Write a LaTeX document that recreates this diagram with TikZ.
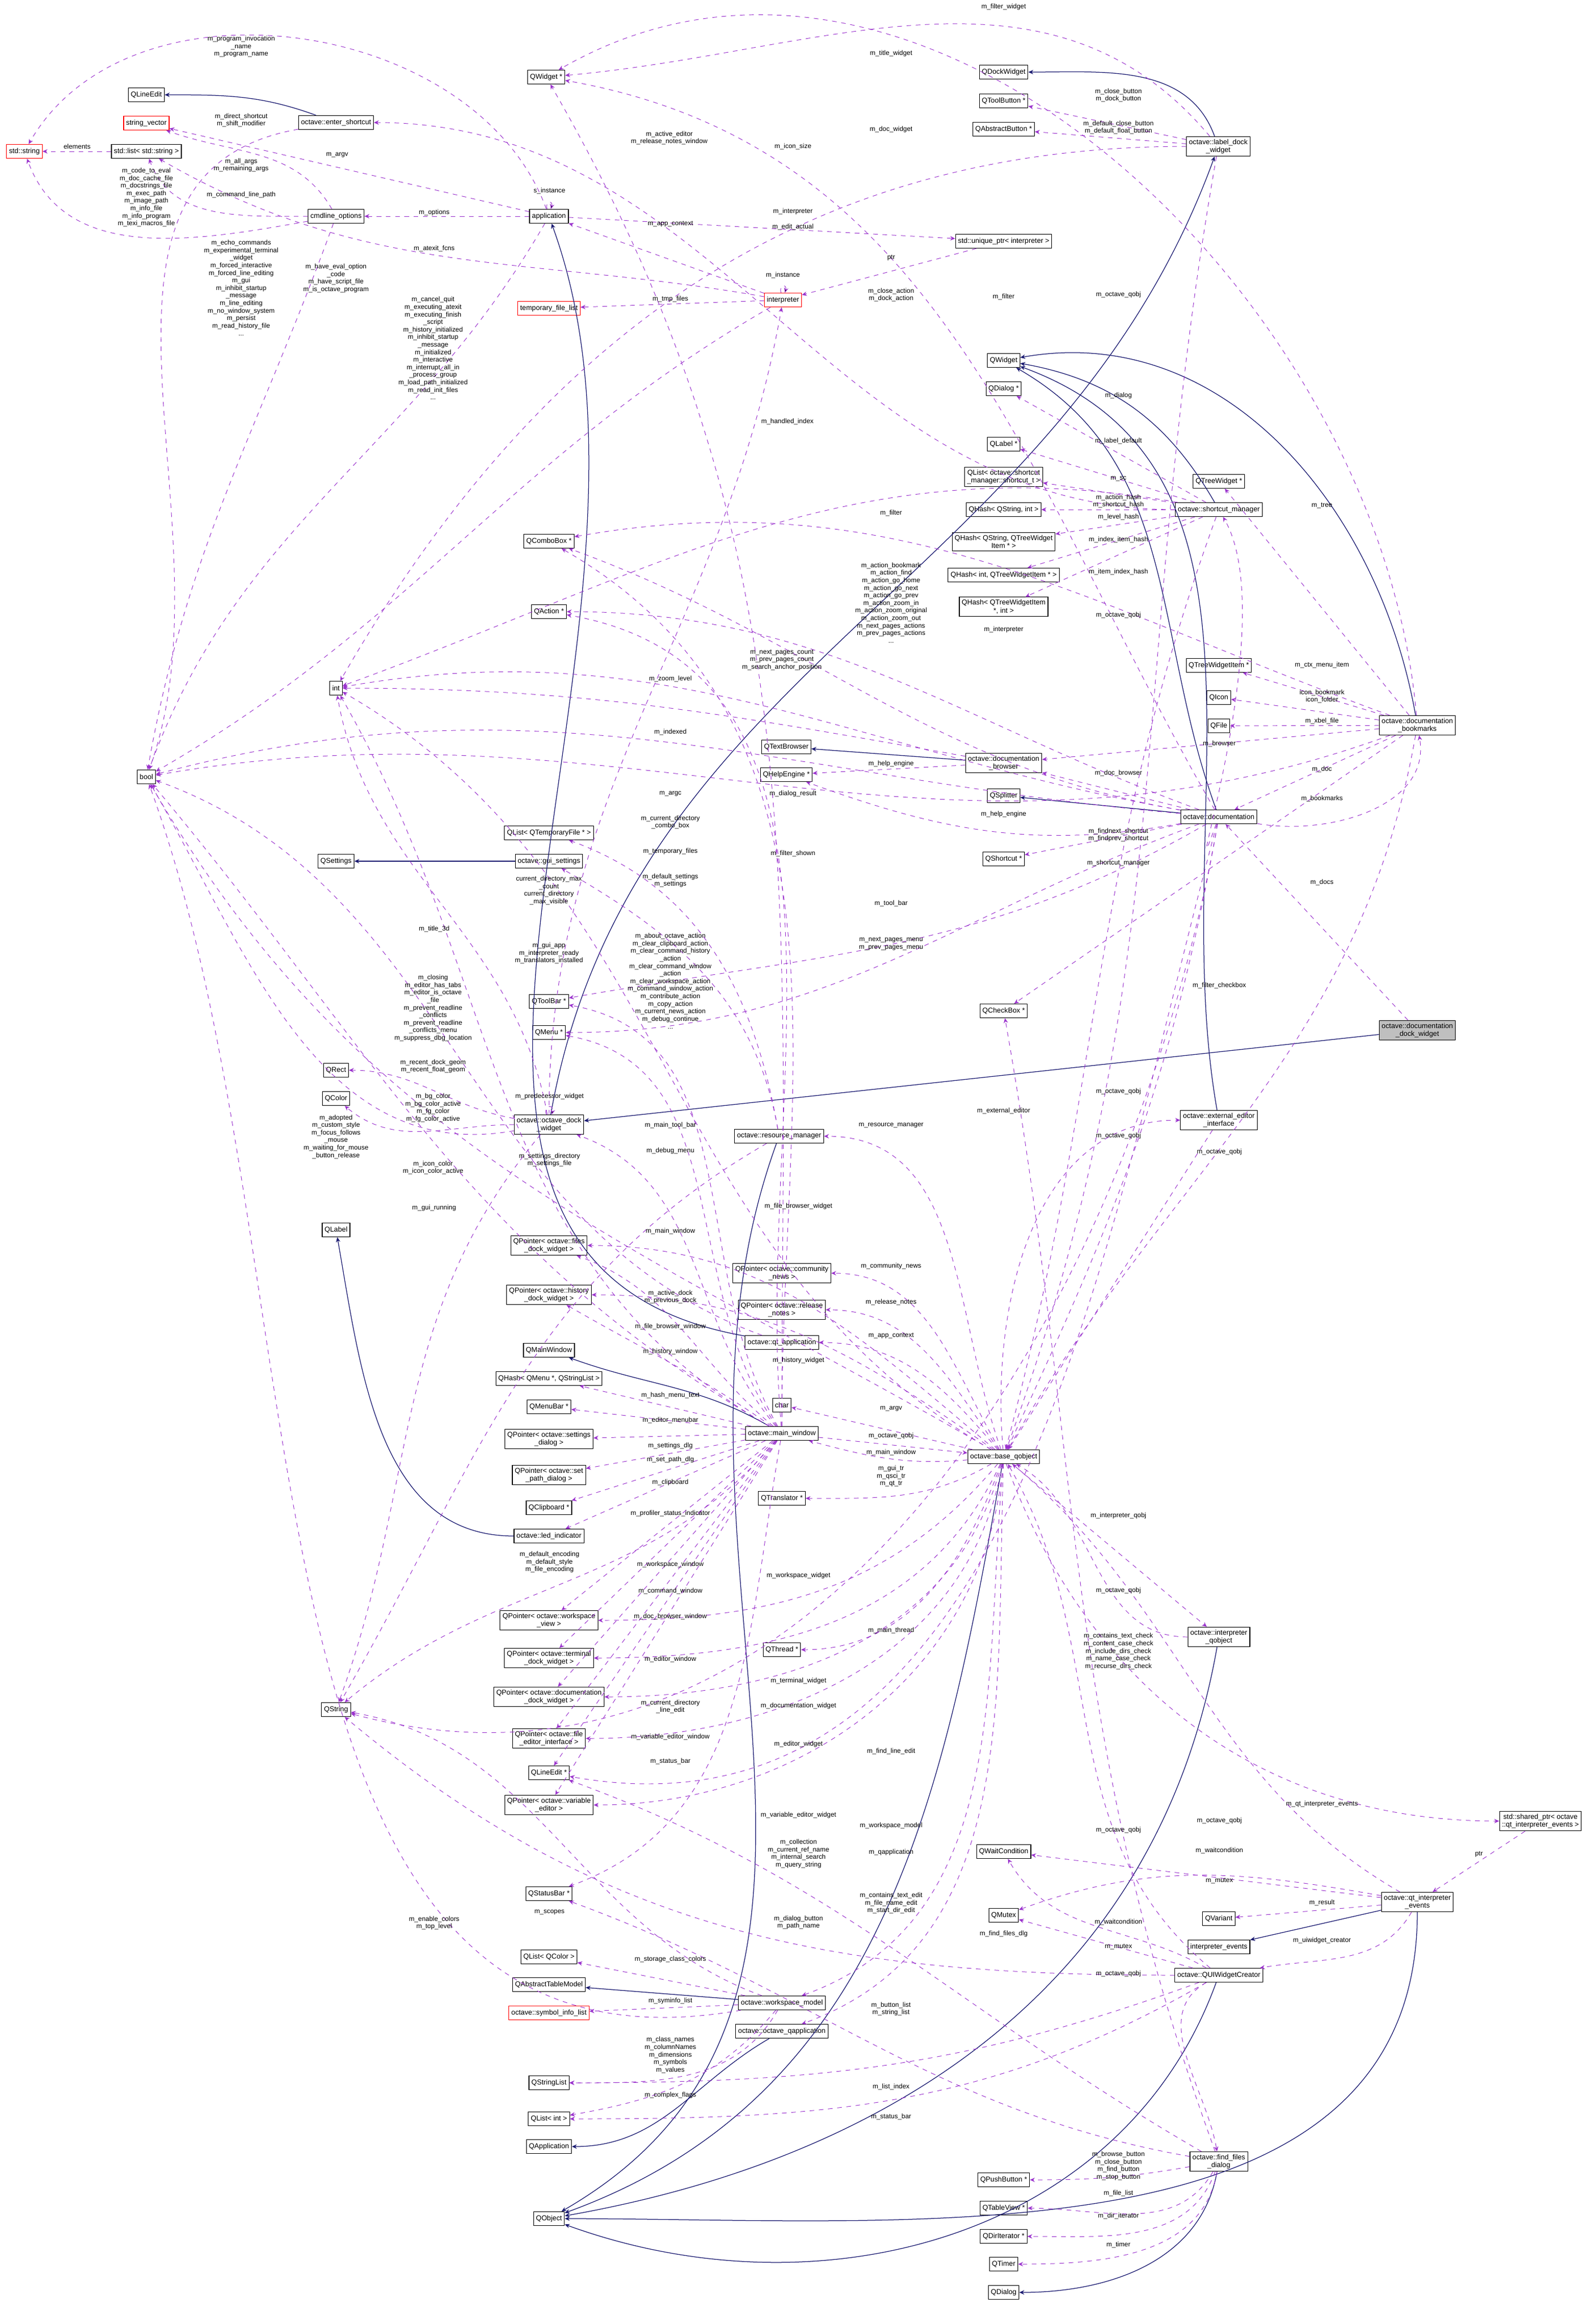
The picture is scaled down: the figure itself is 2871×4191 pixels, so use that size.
\documentclass[tikz,border=0pt]{standalone}
\usepackage{fontspec}
\setmainfont{Liberation Sans}
\usetikzlibrary{arrows.meta}
\definecolor{purp}{HTML}{9A32CD}
\definecolor{navy}{HTML}{191970}
\begin{document}
\begin{tikzpicture}[x=0.36pt,y=-0.36pt,
 bx/.style={draw=black,fill=white,font=\fontsize{4.6}{5.2}\selectfont,inner sep=1.6pt,minimum height=9pt,align=center},
 rbx/.style={bx,draw=red},
 u/.style={draw=purp,dashed,line width=0.35pt,-{Stealth[length=3.2pt,width=2.8pt]}},
 ih/.style={draw=navy,line width=0.45pt,-{Stealth[length=3.2pt,width=2.8pt]}},
 lbl/.style={font=\fontsize{4.3}{4.9}\selectfont,align=center,inner sep=0.5pt}]
\useasboundingbox (0,0) rectangle (2871,4191);
% nodes
\node[rbx] (sstr) at (44,273) {std::string};
\node[bx] (slist) at (264,273) {std::list< std::string >};
\node[rbx] (svec) at (264,222) {string\_vector};
\node[bx] (qle) at (264,171) {QLineEdit};
\node[bx] (esc) at (606,221) {octave::enter\_shortcut};
\node[bx] (qwp) at (985,139) {QWidget *};
\node[bx] (cmd) at (606,390) {cmdline\_options};
\node[bx] (app) at (990,390) {application};
\node[rbx] (tfl) at (990,556) {temporary\_file\_list};
\node[rbx] (interp) at (1412,541) {interpreter};
\node[bx] (uptr) at (1810,435) {std::unique\_ptr< interpreter >};
\node[bx] (qdock) at (1810,130) {QDockWidget};
\node[bx] (qtb) at (1810,182) {QToolButton *};
\node[bx] (qab) at (1810,233) {QAbstractButton *};
\node[bx] (ldw) at (2197,264) {octave::label\_dock\\\_widget};
\node[bx] (qw) at (1810,650) {QWidget};
\node[bx] (qdlgp) at (1810,701) {QDialog *};
\node[bx] (qlblp) at (1810,801) {QLabel *};
\node[bx] (qlsc) at (1810,860) {QList< octave::shortcut\\\_manager::shortcut\_t >};
\node[bx] (qhsi) at (1810,919) {QHash< QString, int >};
\node[bx] (qhst) at (1810,977) {QHash< QString, QTreeWidget\\Item * >};
\node[bx] (qhit) at (1810,1037) {QHash< int, QTreeWidgetItem * >};
\node[bx] (qhti) at (1810,1094) {QHash< QTreeWidgetItem\\*, int >};
\node[bx] (scm) at (2198,919) {octave::shortcut\_manager};
\node[bx] (qtw) at (2198,868) {QTreeWidget *};
\node[bx] (qcb) at (990,976) {QComboBox *};
\node[bx] (qact) at (990,1103) {QAction *};
\node[bx] (int) at (606,1241) {int};
\node[bx] (bool) at (264,1401) {bool};
\node[bx] (qtwi) at (2198,1200) {QTreeWidgetItem *};
\node[bx] (qicon) at (2198,1258) {QIcon};
\node[bx] (qfile) at (2198,1309) {QFile};
\node[bx] (dbm) at (2556,1308) {octave::documentation\\\_bookmarks};
\node[bx] (qtbr) at (1418,1347) {QTextBrowser};
\node[bx] (qhe) at (1418,1397) {QHelpEngine *};
\node[bx] (dbr) at (1810,1376) {octave::documentation\\\_browser};
\node[bx] (qspl) at (1810,1435) {QSplitter};
\node[bx] (doc) at (2198,1473) {octave::documentation};
\node[bx] (qsc) at (1810,1549) {QShortcut *};
\node[bx] (qltf) at (990,1502) {QList< QTemporaryFile * >};
\node[bx] (qset) at (606,1553) {QSettings};
\node[bx] (gset) at (990,1553) {octave::gui\_settings};
\node[bx] (qchk) at (1810,1823) {QCheckBox *};
\node[bx,fill=black!25] (ddw) at (2556,1858) {octave::documentation\\\_dock\_widget};
\node[bx] (qtbar) at (990,1806) {QToolBar *};
\node[bx] (qmenu) at (990,1862) {QMenu *};
\node[bx] (qrect) at (606,1930) {QRect};
\node[bx] (qcolor) at (606,1981) {QColor};
\node[bx] (odw) at (990,2028) {octave::octave\_dock\\\_widget};
\node[bx] (rm) at (1405,2049) {octave::resource\_manager};
\node[bx] (eei) at (2198,2020) {octave::external\_editor\\\_interface};
\node[bx] (qlbl) at (606,2218) {QLabel};
\node[bx] (pfd) at (990,2246) {QPointer< octave::files\\\_dock\_widget >};
\node[bx] (phd) at (990,2335) {QPointer< octave::history\\\_dock\_widget >};
\node[bx] (pcn) at (1410,2296) {QPointer< octave::community\\\_news >};
\node[bx] (prn) at (1410,2362) {QPointer< octave::release\\\_notes >};
\node[bx] (qtapp) at (1410,2421) {octave::qt\_application};
\node[bx] (qmw) at (990,2435) {QMainWindow};
\node[bx] (qhm) at (990,2486) {QHash< QMenu *, QStringList >};
\node[bx] (chr) at (1410,2534) {char};
\node[bx] (mw) at (1410,2585) {octave::main\_window};
\node[bx] (qmb) at (990,2537) {QMenuBar *};
\node[bx] (psd) at (990,2595) {QPointer< octave::settings\\\_dialog >};
\node[bx] (bq) at (1810,2627) {octave::base\_qobject};
\node[bx] (qtr) at (1410,2702) {QTranslator *};
\node[bx] (pspd) at (990,2660) {QPointer< octave::set\\\_path\_dialog >};
\node[bx] (qclip) at (990,2719) {QClipboard *};
\node[bx] (led) at (990,2770) {octave::led\_indicator};
\node[bx] (pwv) at (990,2922) {QPointer< octave::workspace\\\_view >};
\node[bx] (ptd) at (990,2990) {QPointer< octave::terminal\\\_dock\_widget >};
\node[bx] (iq) at (2198,2952) {octave::interpreter\\\_qobject};
\node[bx] (qth) at (1410,2975) {QThread *};
\node[bx] (pdd) at (990,3060) {QPointer< octave::documentation\\\_dock\_widget >};
\node[bx] (qstr) at (606,3083) {QString};
\node[bx] (pfe) at (990,3135) {QPointer< octave::file\\\_editor\_interface >};
\node[bx] (qlep) at (990,3197) {QLineEdit *};
\node[bx] (pve) at (990,3255) {QPointer< octave::variable\\\_editor >};
\node[bx] (qwc) at (1810,3339) {QWaitCondition};
\node[bx] (sptr) at (2778,3284) {std::shared\_ptr< octave\\::qt\_interpreter\_events >};
\node[bx] (qmx) at (1810,3454) {QMutex};
\node[bx] (qvar) at (2198,3460) {QVariant};
\node[bx] (qie) at (2556,3430) {octave::qt\_interpreter\\\_events};
\node[bx] (iev) at (2198,3511) {interpreter\_events};
\node[bx] (qsb) at (990,3415) {QStatusBar *};
\node[bx] (quiw) at (2198,3562) {octave::QUIWidgetCreator};
\node[bx] (qlc) at (990,3529) {QList< QColor >};
\node[bx] (qatm) at (990,3579) {QAbstractTableModel};
\node[bx] (wsm) at (1410,3612) {octave::workspace\_model};
\node[rbx] (sil) at (990,3630) {octave::symbol\_info\_list};
\node[bx] (qoa) at (1410,3663) {octave::octave\_qapplication};
\node[bx] (qsl) at (990,3756) {QStringList};
\node[bx] (qli) at (990,3821) {QList< int >};
\node[bx] (qapp) at (990,3871) {QApplication};
\node[bx] (ffd) at (2198,3898) {octave::find\_files\\\_dialog};
\node[bx] (qpb) at (1810,3931) {QPushButton *};
\node[bx] (qtv) at (1810,3982) {QTableView *};
\node[bx] (qdi) at (1810,4033) {QDirIterator *};
\node[bx] (qtm) at (1810,4083) {QTimer};
\node[bx] (qdlg) at (1810,4134) {QDialog};
\node[bx] (qobj) at (990,4001) {QObject};
% inheritance
\draw[ih] (esc) to[out=160,in=0] (qle);
\draw[ih] (ldw) to[out=110,in=0] (qdock);
\draw[ih] (scm) to[out=120,in=-10] (qw);
\draw[ih] (dbm) to[out=100,in=10] (qw);
\draw[ih] (eei) to[out=100,in=-20] (qw);
\draw[ih] (doc) to[out=110,in=-30] (qw);
\draw[ih] (dbr) -- (qtbr);
\draw[ih] (doc) -- (qspl);
\draw[ih] (gset) -- (qset);
\draw[ih] (odw) to[out=80,in=-110] (ldw);
\draw[ih] (ddw) -- (odw);
\draw[ih] (led) to[out=180,in=-80] (qlbl);
\draw[ih] (mw) to[out=150,in=-20] (qmw);
\draw[ih] (qtapp) to[out=170,in=-70] (app);
\draw[ih] (rm) to[out=-110,in=30] (qobj);
\draw[ih] (wsm) -- (qatm);
\draw[ih] (qoa) to[out=-150,in=0] (qapp);
\draw[ih] (bq) to[out=-100,in=20] (qobj);
\draw[ih] (iq) to[out=-100,in=10] (qobj);
\draw[ih] (qie) to[out=-90,in=0] (qobj);
\draw[ih] (qie) -- (iev);
\draw[ih] (quiw) to[out=-110,in=-20] (qobj);
\draw[ih] (ffd) to[out=-100,in=0] (qdlg);
% usage
\draw[u] (slist) -- (sstr);
\draw[u] (app) -- (svec);
\draw[u] (cmd) to[out=190,in=-70] (sstr);
\draw[u] (cmd) to[out=120,in=-20] (svec);
\draw[u] (cmd) to[out=180,in=-70] (slist);
\draw[u] (cmd) to[out=-110,in=80] (bool);
\draw[u] (esc) to[out=190,in=70] (bool);
\draw[u] (app) to[out=110,in=60] (sstr);
\draw[u] (app) -- (cmd);
\draw[u] (app) edge[loop above,looseness=6] (app);
\draw[u] (app) to[out=-120,in=70] (bool);
\draw[u] (app) -- (uptr);
\draw[u] (interp) -- (app);
\draw[u] (uptr) -- (interp);
\draw[u] (interp) edge[loop above,looseness=6] (interp);
\draw[u] (interp) -- (tfl);
\draw[u] (interp) to[out=-150,in=30] (bool);
\draw[u] (interp) to[out=170,in=-30] (slist);
\draw[u] (mw) to[out=90,in=-60] (qwp);
\draw[u] (ldw) to[out=130,in=5] (qwp);
\draw[u] (dbm) to[out=95,in=30] (qwp);
\draw[u] (doc) to[out=120,in=-10] (qwp);
\draw[u] (ldw) -- (qtb);
\draw[u] (ldw) -- (qab);
\draw[u] (ldw) to[out=180,in=60] (int);
\draw[u] (ldw) to[out=-100,in=70] (bq);
\draw[u] (scm) to[out=180,in=0] (esc);
\draw[u] (odw) to[out=90,in=-100] (interp);
\draw[u] (scm) -- (qdlgp);
\draw[u] (scm) -- (qlblp);
\draw[u] (scm) -- (qlsc);
\draw[u] (scm) -- (qhsi);
\draw[u] (scm) -- (qhst);
\draw[u] (scm) -- (qhit);
\draw[u] (scm) -- (qhti);
\draw[u] (scm) to[out=170,in=20] (int);
\draw[u] (scm) to[out=-110,in=75] (bq);
\draw[u] (dbm) -- (qtw);
\draw[u] (dbm) -- (qtwi);
\draw[u] (dbm) -- (qicon);
\draw[u] (dbm) -- (qfile);
\draw[u] (dbm) -- (dbr);
\draw[u] (dbm) -- (doc);
\draw[u] (dbm) to[out=160,in=10] (qcb);
\draw[u] (dbm) -- (qchk);
\draw[u] (dbm) to[out=-160,in=10] (bool);
\draw[u] (dbm) to[out=-100,in=60] (bq);
\draw[u] (doc) to[out=-10,in=-80] (dbm);
\draw[u] (doc) -- (dbr);
\draw[u] (doc) to[out=190,in=-20] (qhe);
\draw[u] (doc) -- (qsc);
\draw[u] (doc) to[out=-110,in=-60] (scm);
\draw[u] (doc) to[out=160,in=0] (qact);
\draw[u] (doc) to[out=170,in=-20] (qcb);
\draw[u] (doc) to[out=-150,in=10] (qtbar);
\draw[u] (doc) to[out=-160,in=0] (qmenu);
\draw[u] (doc) to[out=170,in=10] (int);
\draw[u] (doc) to[out=175,in=15] (bool);
\draw[u] (doc) to[out=-100,in=65] (bq);
\draw[u] (dbr) -- (qhe);
\draw[u] (dbr) to[out=170,in=0] (int);
\draw[u] (ddw) -- (doc);
\draw[u] (odw) to[out=170,in=0] (qrect);
\draw[u] (odw) to[out=180,in=-40] (qcolor);
\draw[u] (odw) to[out=190,in=-60] (bool);
\draw[u] (odw) to[out=-130,in=70] (qstr);
\draw[u] (odw) edge[loop above,looseness=5] (odw);
\draw[u] (odw) to[out=100,in=-80] (int);
\draw[u] (rm) to[out=100,in=-20] (qltf);
\draw[u] (rm) to[out=100,in=-30] (gset);
\draw[u] (rm) to[out=-150,in=60] (qstr);
\draw[u] (mw) to[out=150,in=-60] (int);
\draw[u] (bq) to[out=150,in=-60] (bool);
\draw[u] (mw) to[out=120,in=-10] (qtbar);
\draw[u] (mw) to[out=125,in=-10] (qmenu);
\draw[u] (mw) to[out=95,in=-10] (qact);
\draw[u] (mw) to[out=150,in=-50] (bool);
\draw[u] (mw) to[out=90,in=-30] (qcb);
\draw[u] (bq) to[out=150,in=-30] (int);
\draw[u] (bq) -- (chr);
\draw[u] (mw) to[out=130,in=-20] (odw);
\draw[u] (mw) to[out=140,in=-20] (pfd);
\draw[u] (mw) to[out=145,in=-30] (phd);
\draw[u] (mw) -- (qhm);
\draw[u] (mw) -- (qmb);
\draw[u] (mw) -- (psd);
\draw[u] (mw) -- (pspd);
\draw[u] (mw) -- (qclip);
\draw[u] (mw) -- (led);
\draw[u] (mw) to[out=-130,in=40] (qstr);
\draw[u] (mw) -- (pwv);
\draw[u] (mw) -- (ptd);
\draw[u] (mw) -- (pdd);
\draw[u] (mw) -- (pfe);
\draw[u] (mw) -- (qlep);
\draw[u] (mw) -- (pve);
\draw[u] (mw) to[out=-100,in=20] (qsb);
\draw[u] (mw) -- (bq);
\draw[u] (bq) to[out=185,in=-15] (mw);
\draw[u] (bq) to[out=140,in=0] (pfd);
\draw[u] (bq) to[out=145,in=0] (phd);
\draw[u] (bq) to[out=120,in=0] (pcn);
\draw[u] (bq) to[out=125,in=0] (prn);
\draw[u] (bq) to[out=130,in=0] (qtapp);
\draw[u] (bq) to[out=-150,in=0] (qtr);
\draw[u] (bq) to[out=-110,in=0] (qth);
\draw[u] (bq) -- (iq);
\draw[u] (bq) to[out=-130,in=0] (pwv);
\draw[u] (bq) to[out=-115,in=0] (ptd);
\draw[u] (bq) to[out=-105,in=0] (pdd);
\draw[u] (bq) to[out=-100,in=0] (pfe);
\draw[u] (bq) to[out=-95,in=0] (pve);
\draw[u] (bq) to[out=-95,in=20] (wsm);
\draw[u] (bq) to[out=-92,in=20] (qoa);
\draw[u] (bq) to[out=-70,in=180] (sptr);
\draw[u] (bq) to[out=110,in=0] (rm);
\draw[u] (bq) to[out=95,in=180] (eei);
\draw[u] (qtapp) to[out=160,in=-20] (bool);
\draw[u] (iq) to[out=180,in=-30] (bq);
\draw[u] (eei) -- (bq);
\draw[u] (qie) to[out=150,in=-40] (bq);
\draw[u] (quiw) to[out=140,in=-60] (bq);
\draw[u] (sptr) -- (qie);
\draw[u] (qie) -- (qwc);
\draw[u] (qie) to[out=170,in=20] (qmx);
\draw[u] (qie) -- (qvar);
\draw[u] (qie) to[out=-120,in=10] (quiw);
\draw[u] (quiw) to[out=150,in=-60] (qwc);
\draw[u] (quiw) -- (qmx);
\draw[u] (quiw) to[out=-150,in=100] (ffd);
\draw[u] (quiw) to[out=-160,in=0] (qsl);
\draw[u] (quiw) to[out=-150,in=0] (qli);
\draw[u] (quiw) to[out=180,in=-40] (qstr);
\draw[u] (ffd) to[out=-170,in=0] (qpb);
\draw[u] (ffd) to[out=-120,in=0] (qtv);
\draw[u] (ffd) to[out=-110,in=0] (qdi);
\draw[u] (ffd) to[out=-100,in=0] (qtm);
\draw[u] (ffd) to[out=110,in=-80] (qchk);
\draw[u] (ffd) to[out=150,in=-20] (qlep);
\draw[u] (ffd) to[out=170,in=-20] (qsb);
\draw[u] (doc) to[out=-105,in=-10] (qlep);
\draw[u] (doc) to[out=-100,in=-15] (qstr);
\draw[u] (wsm) -- (qlc);
\draw[u] (wsm) -- (sil);
\draw[u] (wsm) to[out=-120,in=0] (qsl);
\draw[u] (wsm) to[out=-130,in=10] (qli);
\draw[u] (wsm) to[out=-170,in=-70] (bool);
\draw[u] (wsm) to[out=160,in=-10] (qstr);
% labels
\begin{scope}[every node/.style={lbl}]
\node at (139,264) {elements};
\node at (608,280) {m\_argv};
\node at (991,344) {s\_instance};
\node at (783,383) {m\_options};
\node at (783,448) {m\_atexit\_fcns};
\node at (1209,404) {m\_app\_context};
\node at (1430,381) {m\_interpreter};
\node at (1430,409) {m\_edit\_actual};
\node at (1209,539) {m\_tmp\_files};
\node at (1412,496) {m\_instance};
\node at (1207,249) {m\_active\_editor\\m\_release\_notes\_window};
\node at (1430,264) {m\_icon\_size};
\node at (1420,760) {m\_handled\_index};
\node at (435,84) {m\_program\_invocation\\\_name\\m\_program\_name};
\node at (435,217) {m\_direct\_shortcut\\m\_shift\_modifier};
\node at (435,298) {m\_all\_args\\m\_remaining\_args};
\node at (435,351) {m\_command\_line\_path};
\node at (264,356) {m\_code\_to\_eval\\m\_doc\_cache\_file\\m\_docstrings\_file\\m\_exec\_path\\m\_image\_path\\m\_info\_file\\m\_info\_program\\m\_texi\_macros\_file};
\node at (435,519) {m\_echo\_commands\\m\_experimental\_terminal\\\_widget\\m\_forced\_interactive\\m\_forced\_line\_editing\\m\_gui\\m\_inhibit\_startup\\\_message\\m\_line\_editing\\m\_no\_window\_system\\m\_persist\\m\_read\_history\_file\\...};
\node at (606,502) {m\_have\_eval\_option\\\_code\\m\_have\_script\_file\\m\_is\_octave\_program};
\node at (781,628) {m\_cancel\_quit\\m\_executing\_atexit\\m\_executing\_finish\\\_script\\m\_history\_initialized\\m\_inhibit\_startup\\\_message\\m\_initialized\\m\_interactive\\m\_interrupt\_all\_in\\\_process\_group\\m\_load\_path\_initialized\\m\_read\_init\_files\\...};
\node at (1810,12) {m\_filter\_widget};
\node at (1607,96) {m\_title\_widget};
\node at (2017,172) {m\_close\_button\\m\_dock\_button};
\node at (2017,230) {m\_default\_close\_button\\m\_default\_float\_button};
\node at (1607,233) {m\_doc\_widget};
\node at (1607,465) {ptr};
\node at (1607,532) {m\_close\_action\\m\_dock\_action};
\node at (1810,535) {m\_filter};
\node at (2017,531) {m\_octave\_qobj};
\node at (2017,713) {m\_dialog};
\node at (2017,795) {m\_label\_default};
\node at (2017,863) {m\_sc};
\node at (2017,904) {m\_action\_hash\\m\_shortcut\_hash};
\node at (2017,932) {m\_level\_hash};
\node at (2017,973) {m\_index\_item\_hash};
\node at (2017,1031) {m\_item\_index\_hash};
\node at (2384,912) {m\_tree};
\node at (1607,925) {m\_filter};
\node at (1607,1087) {m\_action\_bookmark\\m\_action\_find\\m\_action\_go\_home\\m\_action\_go\_next\\m\_action\_go\_prev\\m\_action\_zoom\_in\\m\_action\_zoom\_original\\m\_action\_zoom\_out\\m\_next\_pages\_actions\\m\_prev\_pages\_actions\\...};
\node at (2017,1109) {m\_octave\_qobj};
\node at (1810,1135) {m\_interpreter};
\node at (1410,1190) {m\_next\_pages\_count\\m\_prev\_pages\_count\\m\_search\_anchor\_position};
\node at (1209,1224) {m\_zoom\_level};
\node at (2384,1199) {m\_ctx\_menu\_item};
\node at (2384,1256) {icon\_bookmark\\icon\_folder};
\node at (2384,1300) {m\_xbel\_file};
\node at (2199,1341) {m\_browser};
\node at (1607,1377) {m\_help\_engine};
\node at (2017,1394) {m\_doc\_browser};
\node at (2384,1387) {m\_doc};
\node at (2384,1440) {m\_bookmarks};
\node at (1810,1468) {m\_help\_engine};
\node at (2017,1506) {m\_findnext\_shortcut\\m\_findprev\_shortcut};
\node at (2017,1556) {m\_shortcut\_manager};
\node at (2384,1591) {m\_docs};
\node at (1607,1629) {m\_tool\_bar};
\node at (1607,1702) {m\_next\_pages\_menu\\m\_prev\_pages\_menu};
\node at (2199,1777) {m\_filter\_checkbox};
\node at (2017,1968) {m\_octave\_qobj};
\node at (1810,2003) {m\_external\_editor};
\node at (1607,2029) {m\_resource\_manager};
\node at (2017,2048) {m\_octave\_qobj};
\node at (2199,2077) {m\_octave\_qobj};
\node at (1209,1320) {m\_indexed};
\node at (1209,1431) {m\_argc};
\node at (1430,1431) {m\_dialog\_result};
\node at (1209,1483) {m\_current\_directory\\\_combo\_box};
\node at (1430,1539) {m\_filter\_shown};
\node at (1209,1535) {m\_temporary\_files};
\node at (1209,1588) {m\_default\_settings\\m\_settings};
\node at (990,1606) {current\_directory\_max\\\_count\\current\_directory\\\_max\_visible};
\node at (783,1675) {m\_title\_3d};
\node at (990,1719) {m\_gui\_app\\m\_interpreter\_ready\\m\_translators\_installed};
\node at (1209,1769) {m\_about\_octave\_action\\m\_clear\_clipboard\_action\\m\_clear\_command\_history\\\_action\\m\_clear\_command\_window\\\_action\\m\_clear\_workspace\_action\\m\_command\_window\_action\\m\_contribute\_action\\m\_copy\_action\\m\_current\_news\_action\\m\_debug\_continue\\...};
\node at (781,1818) {m\_closing\\m\_editor\_has\_tabs\\m\_editor\_is\_octave\\\_file\\m\_prevent\_readline\\\_conflicts\\m\_prevent\_readline\\\_conflicts\_menu\\m\_suppress\_dbg\_location};
\node at (781,1923) {m\_recent\_dock\_geom\\m\_recent\_float\_geom};
\node at (991,1977) {m\_predecessor\_widget};
\node at (781,1998) {m\_bg\_color\\m\_bg\_color\_active\\m\_fg\_color\\m\_fg\_color\_active};
\node at (606,2050) {m\_adopted\\m\_custom\_style\\m\_focus\_follows\\\_mouse\\m\_waiting\_for\_mouse\\\_button\_release};
\node at (1209,2029) {m\_main\_tool\_bar};
\node at (1209,2075) {m\_debug\_menu};
\node at (991,2092) {m\_settings\_directory\\m\_settings\_file};
\node at (781,2106) {m\_icon\_color\\m\_icon\_color\_active};
\node at (783,2178) {m\_gui\_running};
\node at (1209,2220) {m\_main\_window};
\node at (1440,2175) {m\_file\_browser\_widget};
\node at (1209,2339) {m\_active\_dock\\m\_previous\_dock};
\node at (1209,2392) {m\_file\_browser\_window};
\node at (1209,2437) {m\_history\_window};
\node at (1440,2453) {m\_history\_widget};
\node at (1209,2516) {m\_hash\_menu\_text};
\node at (1209,2561) {m\_editor\_menubar};
\node at (1209,2607) {m\_settings\_dlg};
\node at (1209,2632) {m\_set\_path\_dlg};
\node at (1209,2673) {m\_clipboard};
\node at (1209,2729) {m\_profiler\_status\_indicator};
\node at (991,2817) {m\_default\_encoding\\m\_default\_style\\m\_file\_encoding};
\node at (1209,2821) {m\_workspace\_window};
\node at (1440,2841) {m\_workspace\_widget};
\node at (1209,2869) {m\_command\_window};
\node at (1209,2915) {m\_doc\_browser\_window};
\node at (1209,2992) {m\_editor\_window};
\node at (1440,3031) {m\_terminal\_widget};
\node at (1209,3078) {m\_current\_directory\\\_line\_edit};
\node at (1440,3076) {m\_documentation\_widget};
\node at (1209,3132) {m\_variable\_editor\_window};
\node at (1440,3145) {m\_editor\_widget};
\node at (1607,2283) {m\_community\_news};
\node at (1607,2348) {m\_release\_notes};
\node at (1607,2409) {m\_app\_context};
\node at (1607,2540) {m\_argv};
\node at (1607,2589) {m\_octave\_qobj};
\node at (1607,2619) {m\_main\_window};
\node at (1607,2662) {m\_gui\_tr\\m\_qsci\_tr\\m\_qt\_tr};
\node at (2017,2733) {m\_interpreter\_qobj};
\node at (2017,2868) {m\_octave\_qobj};
\node at (1607,2940) {m\_main\_thread};
\node at (2017,2978) {m\_contains\_text\_check\\m\_content\_case\_check\\m\_include\_dirs\_check\\m\_name\_case\_check\\m\_recurse\_dirs\_check};
\node at (1209,3176) {m\_status\_bar};
\node at (1440,3273) {m\_variable\_editor\_widget};
\node at (1440,3343) {m\_collection\\m\_current\_ref\_name\\m\_internal\_search\\m\_query\_string};
\node at (991,3448) {m\_scopes};
\node at (783,3468) {m\_enable\_colors\\m\_top\_level};
\node at (1440,3467) {m\_dialog\_button\\m\_path\_name};
\node at (1209,3533) {m\_storage\_class\_colors};
\node at (1209,3608) {m\_syminfo\_list};
\node at (1209,3706) {m\_class\_names\\m\_columnNames\\m\_dimensions\\m\_symbols\\m\_values};
\node at (1209,3778) {m\_complex\_flags};
\node at (1607,3158) {m\_find\_line\_edit};
\node at (2384,3253) {m\_qt\_interpreter\_events};
\node at (2199,3283) {m\_octave\_qobj};
\node at (2017,3300) {m\_octave\_qobj};
\node at (1607,3292) {m\_workspace\_model};
\node at (1607,3340) {m\_qapplication};
\node at (2199,3337) {m\_waitcondition};
\node at (2667,3344) {ptr};
\node at (2199,3392) {m\_mutex};
\node at (1607,3432) {m\_contains\_text\_edit\\m\_file\_name\_edit\\m\_start\_dir\_edit};
\node at (2384,3431) {m\_result};
\node at (2017,3466) {m\_waitcondition};
\node at (1810,3487) {m\_find\_files\_dlg};
\node at (2384,3499) {m\_uiwidget\_creator};
\node at (2017,3511) {m\_mutex};
\node at (2017,3559) {m\_octave\_qobj};
\node at (1607,3623) {m\_button\_list\\m\_string\_list};
\node at (1607,3763) {m\_list\_index};
\node at (1607,3817) {m\_status\_bar};
\node at (2017,3906) {m\_browse\_button\\m\_close\_button\\m\_find\_button\\m\_stop\_button};
\node at (2017,3955) {m\_file\_list};
\node at (2017,3996) {m\_dir\_iterator};
\node at (2017,4048) {m\_timer};
\end{scope}
\end{tikzpicture}
\end{document}
